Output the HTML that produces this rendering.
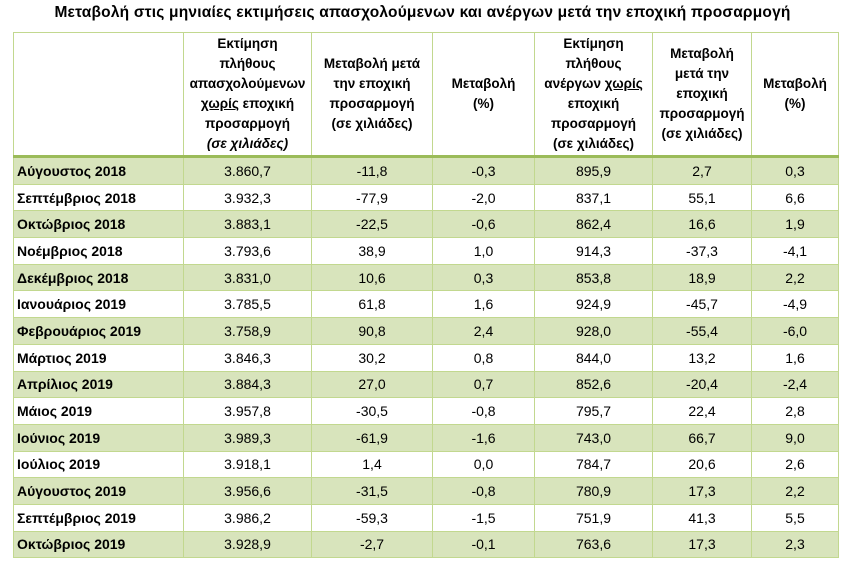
<!DOCTYPE html>
<html><head><meta charset="utf-8"><style>
body{margin:0;width:845px;height:565px;background:#fff;font-family:"Liberation Sans",sans-serif;color:#000;position:relative;overflow:hidden}
.t{position:absolute;top:4px;left:0;width:845px;text-align:center;font-weight:bold;font-size:15.5px;letter-spacing:0.2px}
table{position:absolute;left:13px;top:32px;border-collapse:collapse;table-layout:fixed;width:825px}
td{border:1px solid #c2d88f;padding:0;text-align:center;font-size:14px;white-space:nowrap;overflow:hidden}
tr.h td{height:122px;font-weight:bold;line-height:20px;font-size:13.5px;border-bottom:3px solid #9bbb59;white-space:normal}
tr.r td{height:25.7px}
tr.g td{background:#d8e4bc}
td.l{text-align:left;font-weight:bold;padding-left:3px}
</style></head><body>
<div class="t">Μεταβολή στις μηνιαίες εκτιμήσεις απασχολούμενων και ανέργων μετά την εποχική προσαρμογή</div>
<table>
<colgroup><col style="width:170px"><col style="width:128px"><col style="width:121px"><col style="width:102px"><col style="width:118px"><col style="width:99px"><col style="width:87px"></colgroup>
<tr class="h"><td></td><td>Εκτίμηση<br>πλήθους<br>απασχολούμενων<br><u>χωρίς</u> εποχική<br>προσαρμογή<br><i>(σε χιλιάδες)</i></td><td>Μεταβολή μετά<br>την εποχική<br>προσαρμογή<br>(σε χιλιάδες)</td><td>Μεταβολή<br>(%)</td><td>Εκτίμηση<br>πλήθους<br>ανέργων <u>χωρίς</u><br>εποχική<br>προσαρμογή<br>(σε χιλιάδες)</td><td>Μεταβολή<br>μετά την<br>εποχική<br>προσαρμογή<br>(σε χιλιάδες)</td><td>Μεταβολή<br>(%)</td></tr>
<tr class="r g"><td class="l">Αύγουστος 2018</td><td>3.860,7</td><td>-11,8</td><td>-0,3</td><td>895,9</td><td>2,7</td><td>0,3</td></tr>
<tr class="r"><td class="l">Σεπτέμβριος 2018</td><td>3.932,3</td><td>-77,9</td><td>-2,0</td><td>837,1</td><td>55,1</td><td>6,6</td></tr>
<tr class="r g"><td class="l">Οκτώβριος 2018</td><td>3.883,1</td><td>-22,5</td><td>-0,6</td><td>862,4</td><td>16,6</td><td>1,9</td></tr>
<tr class="r"><td class="l">Νοέμβριος 2018</td><td>3.793,6</td><td>38,9</td><td>1,0</td><td>914,3</td><td>-37,3</td><td>-4,1</td></tr>
<tr class="r g"><td class="l">Δεκέμβριος 2018</td><td>3.831,0</td><td>10,6</td><td>0,3</td><td>853,8</td><td>18,9</td><td>2,2</td></tr>
<tr class="r"><td class="l">Ιανουάριος 2019</td><td>3.785,5</td><td>61,8</td><td>1,6</td><td>924,9</td><td>-45,7</td><td>-4,9</td></tr>
<tr class="r g"><td class="l">Φεβρουάριος 2019</td><td>3.758,9</td><td>90,8</td><td>2,4</td><td>928,0</td><td>-55,4</td><td>-6,0</td></tr>
<tr class="r"><td class="l">Μάρτιος 2019</td><td>3.846,3</td><td>30,2</td><td>0,8</td><td>844,0</td><td>13,2</td><td>1,6</td></tr>
<tr class="r g"><td class="l">Απρίλιος 2019</td><td>3.884,3</td><td>27,0</td><td>0,7</td><td>852,6</td><td>-20,4</td><td>-2,4</td></tr>
<tr class="r"><td class="l">Μάιος 2019</td><td>3.957,8</td><td>-30,5</td><td>-0,8</td><td>795,7</td><td>22,4</td><td>2,8</td></tr>
<tr class="r g"><td class="l">Ιούνιος 2019</td><td>3.989,3</td><td>-61,9</td><td>-1,6</td><td>743,0</td><td>66,7</td><td>9,0</td></tr>
<tr class="r"><td class="l">Ιούλιος 2019</td><td>3.918,1</td><td>1,4</td><td>0,0</td><td>784,7</td><td>20,6</td><td>2,6</td></tr>
<tr class="r g"><td class="l">Αύγουστος 2019</td><td>3.956,6</td><td>-31,5</td><td>-0,8</td><td>780,9</td><td>17,3</td><td>2,2</td></tr>
<tr class="r"><td class="l">Σεπτέμβριος 2019</td><td>3.986,2</td><td>-59,3</td><td>-1,5</td><td>751,9</td><td>41,3</td><td>5,5</td></tr>
<tr class="r g"><td class="l" style="height:25.5px">Οκτώβριος 2019</td><td>3.928,9</td><td>-2,7</td><td>-0,1</td><td>763,6</td><td>17,3</td><td>2,3</td></tr>
</table>
</body></html>
